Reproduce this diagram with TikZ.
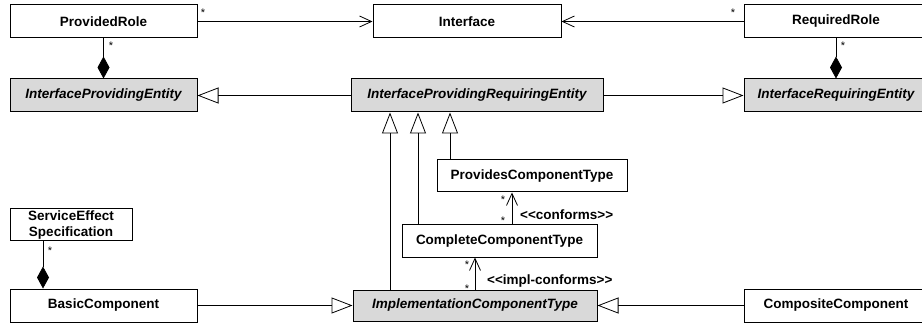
\documentclass[tikz,border=0pt]{standalone}
\usepackage{fontspec}
\setmainfont{Liberation Sans}
\usetikzlibrary{arrows.meta}

\begin{document}
\begin{tikzpicture}[x=1pt,y=-1pt,
  cls/.style={draw,line width=1pt,inner sep=0pt,minimum height=33pt,
    font=\bfseries\fontsize{13.5}{16}\selectfont},
  abs/.style={cls,fill=gray!30,font=\bfseries\itshape\fontsize{13.5}{16}\selectfont},
  gen/.style={line width=0.8pt,-{Triangle[open,length=21pt,width=16pt]}},
  assoc/.style={line width=0.8pt,-{Straight Barb[length=12pt,width=11pt]}},
  comp/.style={line width=0.8pt,-{Diamond[length=22pt,width=12pt]}},
  star/.style={font=\fontsize{11}{12}\selectfont,inner sep=0pt},
  stereo/.style={font=\bfseries\fontsize{13.5}{16}\selectfont,inner sep=0pt,anchor=west}]
  \useasboundingbox (0,0) rectangle (922,326);
  \clip (0,0) rectangle (922,326);

  \node (pr) at (103.5,21.5) [cls,minimum width=187pt] {ProvidedRole};
  \node (if) at (467,21.5) [cls,minimum width=188pt] {Interface};
  \node (rr) at (836,21.5) [cls,minimum width=184pt] {RequiredRole};
  \node (ipe) at (103.5,95.5) [abs,minimum width=187pt] {InterfaceProvidingEntity};
  \node (ipre) at (477,95.5) [abs,minimum width=252pt] {InterfaceProvidingRequiringEntity};
  \node (ire) at (836,95.5) [abs,minimum width=184pt] {InterfaceRequiringEntity};
  \node (pct) at (532,176) [cls,minimum width=190pt,minimum height=32pt] {ProvidesComponentType};
  \node (cct) at (499.5,241) [cls,minimum width=195pt,minimum height=32pt] {CompleteComponentType};
  \node (ict) at (475,305.5) [abs,minimum width=244pt,minimum height=31pt] {ImplementationComponentType};
  \node (ses) at (71,225) [cls,minimum width=122pt,minimum height=32pt,align=center] {ServiceEffect\\Specification};
  \node (bc) at (103.5,305.5) [cls,minimum width=187pt] {BasicComponent};
  \node (cc) at (836,305.5) [cls,minimum width=184pt] {CompositeComponent};

  % roles and interface
  \draw[assoc] (pr) to (if);
  \draw[assoc] (rr) to (if);
  \draw[comp] (pr) to (ipe);
  \draw[comp] (rr) to (ire);
  \draw[gen] (ipre) to (ipe);
  \draw[gen] (ipre) to (ire);

  % component types
  \draw[gen] (ict.north -| 390,0) to (ipre.south -| 390,0);
  \draw[gen] (cct.north -| 418,0) to (ipre.south -| 418,0);
  \draw[gen] (pct.north -| 450,0) to (ipre.south -| 450,0);
  \draw[assoc] (cct.north -| 512,0) to (pct.south -| 512,0);
  \draw[assoc] (ict.north -| 475,0) to (cct.south -| 475,0);
  \draw[comp] (ses.south -| 43,0) to (bc.north -| 43,0);
  \draw[gen] (bc) to (ict);
  \draw[gen] (cc) to (ict);

  \node (s1) at (203,12.5) [star] {*};
  \node (s2) at (733,12.5) [star] {*};
  \node (s3) at (111,45.5) [star] {*};
  \node (s4) at (843,45.5) [star] {*};
  \node (s5) at (50,250.5) [star] {*};
  \node (s6) at (503,199.5) [star] {*};
  \node (s7) at (503,220.5) [star] {*};
  \node (s8) at (467,264.5) [star] {*};
  \node (s9) at (467,288.5) [star] {*};
  \node (cf) at (520,215) [stereo] {<{}<conforms>{}>};
  \node (icf) at (487,281) [stereo] {<{}<impl-conforms>{}>};
\end{tikzpicture}
\end{document}
